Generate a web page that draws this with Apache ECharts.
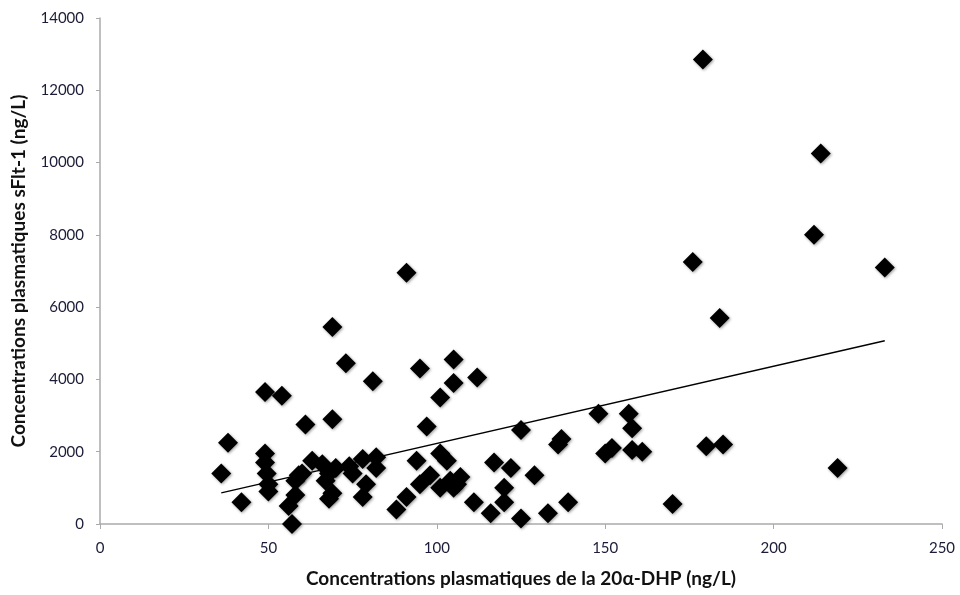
<!DOCTYPE html>
<html><head><meta charset="utf-8">
<script src="https://cdn.jsdelivr.net/npm/echarts@6/dist/echarts.min.js"></script>
<style>html,body{margin:0;padding:0;background:#fff}#c{width:960px;height:595px}</style>
</head><body><div id="c"></div>
<script>
// 20α-DHP (ng/L)
const dhp = [179,214,212,176,233,184,180,185,219,170,
  91,69,73,81,95,105,105,101,112,97,69,61,49,54,38,36,42,
  49,49,49.5,50,50,
  57,56,58,58,59,60,
  63,66,67,68,69,70,68,
  74,75,78,79,78,82,82,
  88,91,95,94,98,101,103,101,105,107,106,104,
  111,116,117,120,120,122,125,125,129,133,136,137,139,
  148,157,158,152,150,158,161];
// sFlt-1 (ng/L)
const sflt = [12850,10250,8000,7250,7100,5700,2150,2200,1550,550,
  6950,5450,4450,3950,4300,4550,3900,3500,4050,2700,2900,2750,3650,3550,2250,1400,600,
  1950,1700,1400,1100,900,
  0,500,800,1200,1350,1400,
  1750,1650,1200,700,850,1550,1400,
  1600,1400,1800,1100,750,1850,1550,
  400,750,1100,1750,1350,1950,1750,1000,1000,1300,1100,1200,
  600,300,1700,1000,600,1550,150,2600,1350,300,2200,2350,600,
  3050,3050,2650,2100,1950,2050,2000];
// linear trend endpoints
const trendX = [36, 233];
const trendY = [860, 5070];
const xTicks = [0, 250, 50];
const yTicks = [0, 14000, 2000];

const font = 'Lato, "Open Sans", sans-serif';
const chart = echarts.init(document.getElementById('c'), null, {renderer:'canvas'});
chart.setOption({
  animation:false,
  grid:{left:100,right:18,top:18,bottom:71,containLabel:false},
  xAxis:{type:'value',min:xTicks[0],max:xTicks[1],interval:xTicks[2],
    name:'Concentrations plasmatiques de la 20α-DHP (ng/L)',nameLocation:'middle',nameGap:45,
    nameTextStyle:{fontFamily:font,fontSize:19,fontWeight:'bold',color:'#111'},
    axisLine:{lineStyle:{color:'#aaa',width:1.5}},
    axisTick:{show:true,length:5,lineStyle:{color:'#aaa'}},
    axisLabel:{fontFamily:font,fontSize:15,color:'#1c1c38',margin:17},
    splitLine:{show:false}},
  yAxis:{type:'value',min:yTicks[0],max:yTicks[1],interval:yTicks[2],
    name:'Concentrations plasmatiques sFlt-1 (ng/L)',nameLocation:'middle',nameGap:72,
    nameTextStyle:{fontFamily:font,fontSize:19,fontWeight:'bold',color:'#111'},
    axisLine:{show:true,lineStyle:{color:'#aaa',width:1.5}},
    axisTick:{show:true,length:4,lineStyle:{color:'#aaa'}},
    axisLabel:{fontFamily:font,fontSize:15,color:'#1c1c38',margin:16,formatter:v=>String(v)},
    splitLine:{show:false}},
  series:[
    {type:'scatter',symbol:'diamond',symbolSize:20,
     data:dhp.map((x,i)=>[x,sflt[i]]),
     itemStyle:{color:'#000',opacity:1,shadowBlur:3,shadowColor:'rgba(0,0,0,0.4)',shadowOffsetX:1,shadowOffsetY:1}},
    {type:'line',showSymbol:false,symbol:'none',
     data:trendX.map((x,i)=>[x,trendY[i]]),
     lineStyle:{color:'#000',width:1.3},z:1}
  ]
});
</script></body></html>
